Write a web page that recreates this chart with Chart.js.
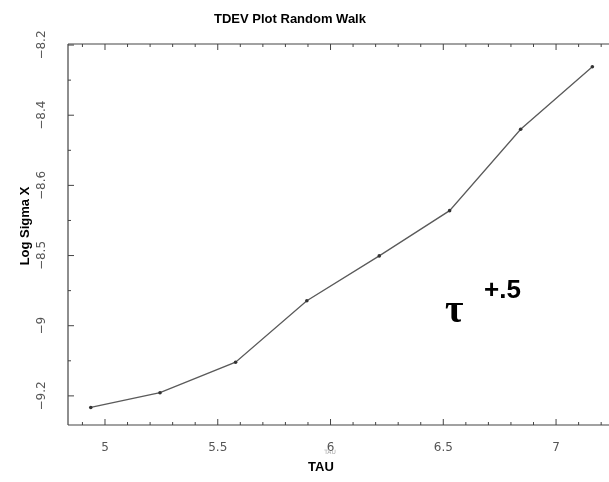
<!DOCTYPE html>
<html>
<head>
<meta charset="utf-8">
<script src="https://cdn.jsdelivr.net/npm/chart.js@4"></script>
<style>
  html, body { margin: 0; padding: 0; background: #fff; }
</style>
</head>
<body>
<canvas id="tdevchart" width="609" height="482"></canvas>
<script>
// values
var tau = [4.937, 5.244, 5.579, 5.895, 6.216, 6.528, 6.843, 7.161];
var logSigma = [-9.233, -9.191, -9.104, -8.929, -8.801, -8.672, -8.440, -8.262];
var xTicks = [5, 5.5, 6, 6.5, 7];
var xTickLabels = ['5', '5.5', '6', '6.5', '7'];
var yTicks = [-8.2, -8.4, -8.6, -8.8, -9, -9.2];
var yTickLabels = ['\u22128.2', '\u22128.4', '\u22128.6', '\u22128.5', '\u22129', '\u22129.2'];

var points = tau.map(function (t, i) { return { x: t, y: logSigma[i] }; });

// frame, inward tick marks and all the text around the plot
var decor = {
    id: 'decor',
    afterDraw: function (chart) {
        var c = chart.ctx;
        var a = chart.chartArea;
        var xs = chart.scales.x;
        var ys = chart.scales.y;
        var right = chart.width;
        c.save();
        c.strokeStyle = '#444';
        c.lineWidth = 1.2;
        c.beginPath();
        c.moveTo(a.left, a.top); c.lineTo(right, a.top);
        c.moveTo(a.left, a.top); c.lineTo(a.left, a.bottom);
        c.moveTo(a.left, a.bottom); c.lineTo(right, a.bottom);
        c.stroke();

        c.lineWidth = 1;
        c.beginPath();
        for (var v = 4.9; v < 7.25; v += 0.1) {
            var px = xs.getPixelForValue(v);
            var major = Math.abs(v * 2 - Math.round(v * 2)) < 0.01;
            var len = major ? 6 : 3;
            c.moveTo(px, a.bottom); c.lineTo(px, a.bottom - len);
            c.moveTo(px, a.top); c.lineTo(px, a.top + len);
        }
        for (var w = -9.2; w <= ys.max + 0.001; w += 0.1) {
            var py = ys.getPixelForValue(w);
            var majorY = Math.abs(w * 5 - Math.round(w * 5)) < 0.01;
            c.moveTo(a.left, py); c.lineTo(a.left + (majorY ? 6 : 3), py);
        }
        c.stroke();

        // rotated y tick labels
        c.fillStyle = '#555';
        c.font = '12px "DejaVu Sans"';
        c.textAlign = 'center';
        c.textBaseline = 'middle';
        yTicks.forEach(function (t, i) {
            c.save();
            c.translate(42, ys.getPixelForValue(t));
            c.rotate(-Math.PI / 2);
            c.fillText(yTickLabels[i], 0, 0);
            c.restore();
        });

        // titles
        c.fillStyle = '#000';
        c.font = 'bold 13px "Liberation Sans"';
        c.fillText('TDEV Plot Random Walk', 290, 19);
        c.fillText('TAU', 321, 467);
        c.save();
        c.translate(25, 226);
        c.rotate(-Math.PI / 2);
        c.fillText('Log Sigma X', 0, 0);
        c.restore();

        // faint scanned axis label
        c.fillStyle = '#aaa';
        c.font = '6px "DejaVu Sans"';
        c.fillText('TAU', 330, 452);

        // slope note
        c.fillStyle = '#000';
        c.textAlign = 'left';
        c.textBaseline = 'alphabetic';
        c.font = 'bold 40px "Liberation Serif"';
        c.fillText('\u03c4', 445, 322);
        c.font = 'bold 26px "Liberation Sans"';
        c.fillText('+.5', 484, 298);
        c.restore();
    }
};

var ctx = document.getElementById('tdevchart').getContext('2d');
var myChart = new Chart(ctx, {
    type: 'line',
    data: {
        datasets: [
            {
                label: 'TDEV',
                data: points,
                borderColor: '#5a5a5a',
                borderWidth: 1.3,
                backgroundColor: '#333',
                pointRadius: 1.8,
                pointBorderWidth: 0,
                tension: 0,
            },
        ],
    },
    options: {
        responsive: false,
        animation: false,
        layout: { padding: { top: 44, right: 0, left: 0, bottom: 0 } },
        plugins: {
            legend: { display: false },
            tooltip: { enabled: false },
        },
        scales: {
            x: {
                type: 'linear',
                min: 4.836,
                max: 7.217,
                grid: { display: false },
                border: { display: false },
                afterBuildTicks: function (scale) {
                    scale.ticks = xTicks.map(function (v) { return { value: v }; });
                },
                afterFit: function (scale) { scale.height = 57; },
                ticks: {
                    padding: 8,
                    color: '#555',
                    font: { family: 'DejaVu Sans', size: 12 },
                    maxRotation: 0,
                    callback: function (value) {
                        var i = xTicks.indexOf(value);
                        return i >= 0 ? xTickLabels[i] : '';
                    },
                },
            },
            y: {
                type: 'linear',
                min: -9.283,
                max: -8.197,
                grid: { display: false },
                border: { display: false },
                ticks: { display: false },
                afterFit: function (scale) { scale.width = 68; },
            },
        },
    },
    plugins: [decor],
});
</script>
</body>
</html>
